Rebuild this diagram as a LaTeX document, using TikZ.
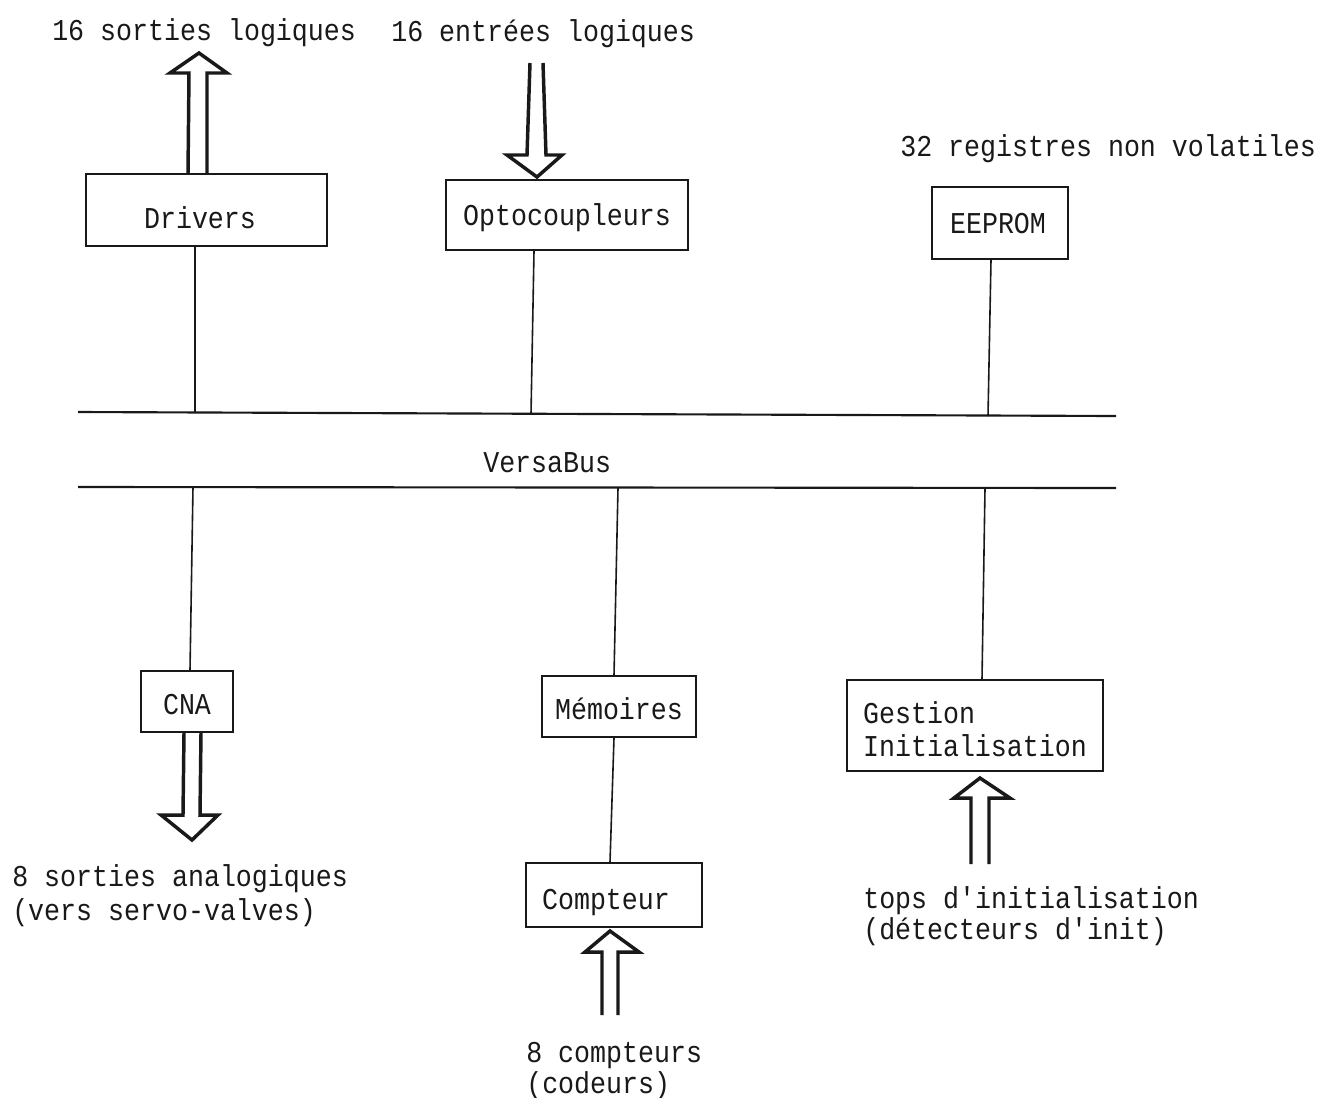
\documentclass[tikz,border=0pt]{standalone}
\usepackage{fontspec}
\newfontfamily\typewriter[FakeStretch=0.88]{Liberation Mono}
\newcommand{\boxtxt}[3]{\raisebox{#2}[0pt][0pt]{\makebox[0pt]{\hspace*{#1}#3}}}
\tikzset{
  x=0.75pt,y=-0.75pt,
  txt/.style={font=\typewriter\fontsize{22.7}{24.75}\selectfont,inner sep=0pt,text=black!90},
  lab/.style={txt,anchor=base west},
  blk/.style={txt,draw=black!90,line width=1.2pt,inner sep=0pt},
  wire/.style={draw=black!90,line width=1.2pt},
  bus/.style={draw=black!90,line width=1.6pt},
  hollow/.style={draw=black!90,line width=2.6pt,fill=white,line join=miter}
}
\begin{document}
\begin{tikzpicture}
\useasboundingbox (0,0) rectangle (1320,1097);
\fill[white] (0,0) rectangle (1320,1097);

% hollow arrows
\draw[hollow] (188,174) -- (189,73) -- (170,73) -- (199,53) -- (227,73) -- (207,73) -- (207,174);
\draw[hollow] (530,63) -- (527,155) -- (507,155) -- (537,177) -- (562,155) -- (546,155) -- (543,63);
\draw[hollow] (184,733) -- (183,815) -- (161,815) -- (192,840) -- (218,815) -- (200,815) -- (201,733);
\draw[hollow] (602,1015) -- (602,952) -- (585,952) -- (610,931) -- (639,952) -- (618,952) -- (618,1015);
\draw[hollow] (971,864) -- (971,798) -- (954,798) -- (980,778) -- (1010,798) -- (989,798) -- (989,864);

% buses
\coordinate (busAw) at (78,412);
\coordinate (busAe) at (1116,416);
\coordinate (busBw) at (78,487);
\coordinate (busBe) at (1116,488);
\draw[bus] (busAw) -- (busAe);
\draw[bus] (busBw) -- (busBe);
\node[lab] (versa) at (483,472) {VersaBus};

% boxes
\node[blk,minimum width=241*0.75pt,minimum height=72*0.75pt] (drivers) at (206.5,210) {\boxtxt{-9.75pt}{-13.5pt}{Drivers}};
\node[blk,minimum width=242*0.75pt,minimum height=70*0.75pt] (opto) at (567,215) {\boxtxt{0pt}{-7.5pt}{Optocoupleurs}};
\node[blk,minimum width=136*0.75pt,minimum height=72*0.75pt] (eeprom) at (1000,223) {\boxtxt{-3pt}{-7.5pt}{EEPROM}};
\node[blk,minimum width=92*0.75pt,minimum height=61*0.75pt] (cna) at (187,701.5) {\boxtxt{0pt}{-10pt}{CNA}};
\node[blk,minimum width=154*0.75pt,minimum height=61*0.75pt] (mem) at (619,706.5) {\boxtxt{0pt}{-10pt}{Mémoires}};
\node[blk,minimum width=176*0.75pt,minimum height=64*0.75pt] (cpt) at (614,895) {\boxtxt{-12pt}{-10.5pt}{Compteur}};
\node[blk,minimum width=256*0.75pt,minimum height=91*0.75pt] (gest) at (975,725.5) {\boxtxt{0pt}{-11.25pt}{\begin{tabular}{@{}l@{}}Gestion\\Initialisation\end{tabular}}};

% bus taps
\coordinate (tapD) at (195,413);
\coordinate (tapO) at (531,414);
\coordinate (tapE) at (988,416);
\coordinate (tapC) at (193,487);
\coordinate (tapM) at (618,488);
\coordinate (tapG) at (985,488);
\draw[wire] (drivers.south -| tapD) -- (tapD);
\draw[wire] ([xshift=-24.75pt]opto.south) -- (tapO);
\draw[wire] ([xshift=-6.75pt]eeprom.south) -- (tapE);
\draw[wire] (tapC) -- ([xshift=2.25pt]cna.north);
\draw[wire] (tapM) -- ([xshift=-3.75pt]mem.north);
\draw[wire] ([xshift=-3.75pt]mem.south) -- ([xshift=-3pt]cpt.north);
\draw[wire] (tapG) -- ([xshift=5.25pt]gest.north);

% labels
\node[lab] (l1) at (52,40) {16 sorties logiques};
\node[lab] (l2) at (391,41) {16 entrées logiques};
\node[lab] (l3) at (900,156) {32 registres non volatiles};
\node[lab] (l4) at (12,886) {8 sorties analogiques};
\node[lab] (l5) at (12,920) {(vers servo-valves)};
\node[lab] (l6) at (526,1062) {8 compteurs};
\node[lab] (l7) at (526,1093) {(codeurs)};
\node[lab] (l8) at (863,908) {tops d'initialisation};
\node[lab] (l9) at (863,939) {(détecteurs d'init)};
\end{tikzpicture}
\end{document}
